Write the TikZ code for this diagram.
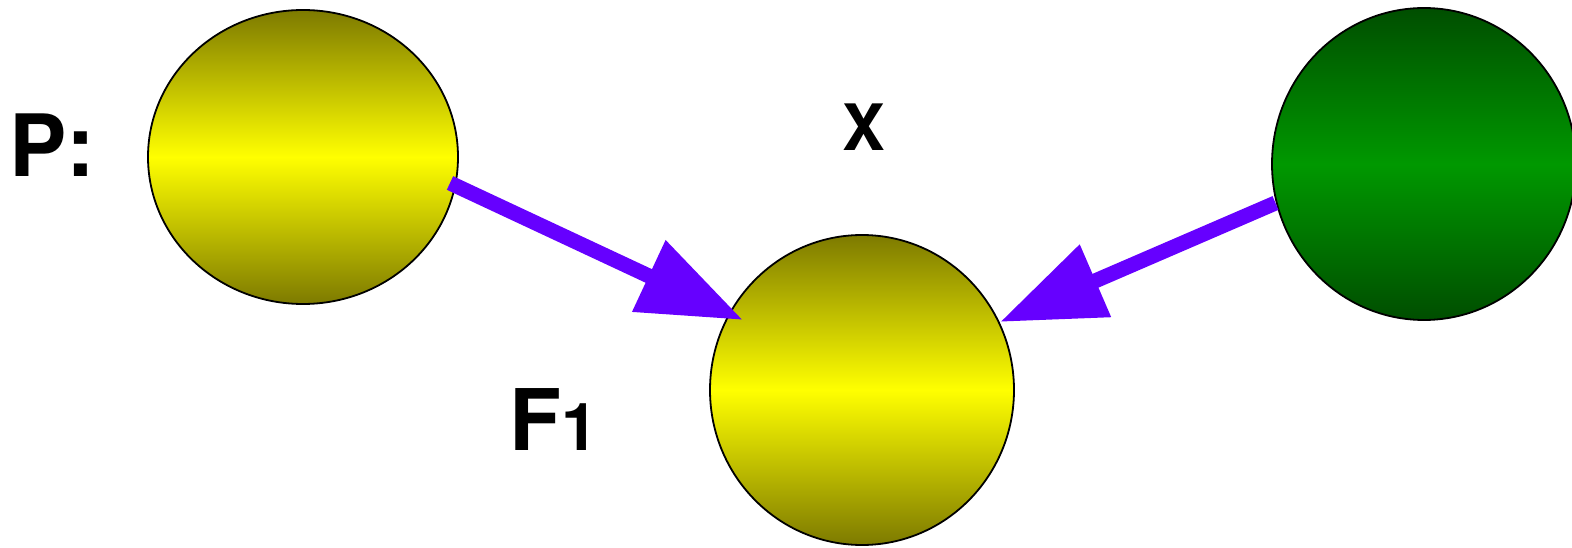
\documentclass[tikz,border=0pt]{standalone}
\usepackage{fontspec}
\setmainfont{TeX Gyre Heros}
\usetikzlibrary{shapes.geometric,arrows.meta}
\definecolor{olivedark}{RGB}{125,122,0}
\definecolor{brightyellow}{RGB}{255,255,0}
\definecolor{greendark}{RGB}{0,78,0}
\definecolor{greenmid}{RGB}{0,152,0}
\definecolor{arrowpurple}{RGB}{102,0,255}
\tikzset{
  ball/.style={ellipse, draw=black, line width=1.8pt, inner sep=0pt},
  yellowball/.style={ball, top color=olivedark, bottom color=olivedark, middle color=brightyellow},
  greenball/.style={ball, top color=greendark, bottom color=greendark, middle color=greenmid},
  bigarrow/.style={draw=arrowpurple, line width=15pt, line cap=butt,
    -{Triangle[length=104pt,width=75pt,fill=arrowpurple]}},
  lbl/.style={inner sep=0pt, anchor=base west, font=\bfseries}
}
\begin{document}
\begin{tikzpicture}[x=1pt,y=-1pt]
\useasboundingbox (0,0) rectangle (1572,548);
\node[yellowball, minimum width=310pt, minimum height=294pt] (L) at (303,157) {};
\node[yellowball, minimum width=304pt, minimum height=310pt] (M) at (862,390) {};
\node[greenball, minimum width=304pt, minimum height=312pt] (R) at (1424,164) {};
\coordinate (a1s) at ([shift={(147,26)}]L.center);
\coordinate (a1e) at ([shift={(-119,-70)}]M.center);
\coordinate (a2s) at ([shift={(-148.5,39)}]R.center);
\coordinate (a2e) at ([shift={(138,-68)}]M.center);
\draw[bigarrow] (a1s) -- (a1e);
\draw[bigarrow] (a2s) -- (a2e);
\node[lbl] (p) at (9,177) {\fontsize{86}{86}\selectfont P:};
\node[lbl] (x) at (842,151) {\fontsize{64}{64}\selectfont X};
\node[lbl] (f) at (509,450) {\fontsize{85}{85}\selectfont F\fontsize{66}{66}\selectfont 1};
\end{tikzpicture}
\end{document}
